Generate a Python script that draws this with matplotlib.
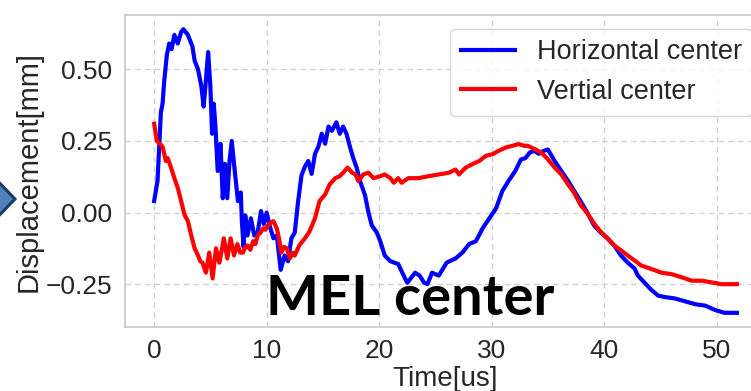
import matplotlib
matplotlib.use("Agg")
import matplotlib.pyplot as plt
from matplotlib.patches import Polygon
import numpy as np

# ---- data ----
h_time = [0, 0.3, 0.45, 0.6, 0.75, 0.9, 1.13, 1.34, 1.55, 1.8, 2.1, 2.4, 2.6, 3.0, 3.2, 3.4, 3.6, 3.9,
          4.2, 4.4, 4.6, 4.8, 5.0, 5.15, 5.3, 5.45, 5.65, 5.9, 6.1, 6.3, 6.5, 6.7, 6.9, 7.1, 7.45,
          7.7, 7.8, 7.95, 8.1, 8.3, 8.6, 8.9, 9.2, 9.5, 9.75, 10.0, 10.3, 10.6, 10.9, 11.25, 11.6,
          11.9, 12.2, 12.5, 12.8, 13.1, 13.4, 13.7, 14.0, 14.3, 14.6, 14.9, 15.2, 15.5, 15.8, 16.2,
          16.5, 16.8, 17.1, 17.4, 17.7, 18.0, 18.3, 18.75, 19.05, 19.35, 19.8, 20.1, 20.5, 21.0,
          21.7, 22.3, 22.5, 23.2, 23.6, 24.0, 24.3, 24.7, 25.3, 26.0, 26.8, 27.4, 28.0, 28.6, 29.2,
          29.8, 30.4, 30.95, 31.5, 32.1, 32.6, 33.0, 33.4, 33.8, 34.2, 34.6, 35.0, 35.6, 36.2, 36.8,
          37.35, 37.9, 38.5, 39.1, 39.7, 40.3, 40.9, 41.5, 42.1, 42.7, 43.0, 43.6, 44.2, 44.8, 45.4,
          46.3, 47.2, 48.1, 49.0, 49.85, 50.7, 51.8]
h_disp = [0.04, 0.11, 0.23, 0.35, 0.38, 0.46, 0.55, 0.59, 0.57, 0.62, 0.59, 0.63, 0.64, 0.62, 0.60, 0.58,
          0.53, 0.50, 0.44, 0.37, 0.46, 0.56, 0.44, 0.275, 0.38, 0.30, 0.145, 0.24, 0.05, 0.17, 0.05,
          0.18, 0.25, 0.17, 0.04, 0.07, -0.03, -0.12, -0.01, -0.08, -0.02, -0.08, -0.07, 0.005, -0.04,
          0.0, -0.05, -0.09, -0.08, -0.20, -0.15, -0.17, -0.09, -0.07, 0.04, 0.13, 0.16, 0.18, 0.135,
          0.205, 0.23, 0.275, 0.24, 0.30, 0.285, 0.315, 0.275, 0.30, 0.275, 0.23, 0.19, 0.157, 0.11,
          0.06, 0.0, -0.045, -0.07, -0.10, -0.15, -0.17, -0.18, -0.23, -0.245, -0.21, -0.22, -0.245,
          -0.25, -0.21, -0.22, -0.175, -0.16, -0.14, -0.11, -0.10, -0.055, -0.02, 0.015, 0.075, 0.11,
          0.145, 0.185, 0.19, 0.21, 0.215, 0.205, 0.215, 0.22, 0.18, 0.145, 0.11, 0.075, 0.04, 0.0,
          -0.045, -0.07, -0.09, -0.115, -0.15, -0.175, -0.195, -0.22, -0.245, -0.27, -0.29, -0.295,
          -0.30, -0.31, -0.32, -0.325, -0.34, -0.35, -0.35]

v_time = [0, 0.24, 0.5, 0.75, 1.04, 1.2, 1.5, 1.8, 2.1, 2.4, 2.7, 3.0, 3.3, 3.6, 3.9, 4.1, 4.3, 4.6, 4.9,
          5.2, 5.5, 5.8, 6.2, 6.5, 6.8, 7.1, 7.4, 7.65, 7.9, 8.1, 8.3, 8.55, 8.8, 9.0, 9.2, 9.45, 9.7,
          9.9, 10.1, 10.4, 10.6, 10.9, 11.1, 11.3, 11.55, 11.8, 12.05, 12.35, 12.5, 12.9, 13.4, 13.8,
          14.3, 14.7, 15.2, 15.6, 16.1, 16.5, 16.8, 17.2, 17.6, 17.9, 18.15, 18.6, 19.05, 19.5, 20.1,
          20.5, 21.0, 21.3, 21.7, 22.0, 22.6, 23.5, 24.4, 25.3, 26.2, 26.8, 27.1, 27.7, 28.3, 28.9,
          29.5, 30.1, 30.65, 31.25, 31.85, 32.4, 32.9, 33.2, 33.8, 34.4, 35.0, 35.6, 36.2, 36.8, 37.35,
          37.9, 38.5, 39.1, 39.7, 40.3, 40.9, 41.5, 42.1, 42.7, 43.3, 44.2, 45.1, 46.0, 46.9, 47.8,
          48.7, 49.6, 50.4, 51.8]
v_disp = [0.31, 0.25, 0.24, 0.23, 0.18, 0.19, 0.157, 0.12, 0.086, 0.04, -0.008, -0.03, -0.08, -0.125,
          -0.15, -0.17, -0.175, -0.21, -0.14, -0.23, -0.125, -0.175, -0.09, -0.16, -0.09, -0.15, -0.11,
          -0.14, -0.14, -0.12, -0.115, -0.13, -0.10, -0.11, -0.08, -0.07, -0.055, -0.06, -0.045,
          -0.035, -0.03, -0.055, -0.09, -0.14, -0.12, -0.125, -0.16, -0.14, -0.15, -0.115, -0.09,
          -0.067, -0.02, 0.04, 0.063, 0.098, 0.12, 0.127, 0.139, 0.157, 0.139, 0.133, 0.11, 0.133,
          0.139, 0.12, 0.127, 0.133, 0.12, 0.104, 0.12, 0.104, 0.12, 0.12, 0.127, 0.133, 0.139, 0.15,
          0.133, 0.157, 0.169, 0.18, 0.198, 0.204, 0.216, 0.227, 0.233, 0.239, 0.233, 0.233, 0.222,
          0.21, 0.186, 0.157, 0.133, 0.098, 0.068, 0.027, -0.002, -0.038, -0.067, -0.09, -0.115,
          -0.132, -0.15, -0.167, -0.185, -0.197, -0.21, -0.215, -0.226, -0.238, -0.238, -0.244,
          -0.25, -0.25]

series_labels = ["Horizontal center", "Vertial center"]
x_label = "Time[us]"
y_label = "Displacement[mm]"
overlay_text = "MEL center"

# ---- figure ----
W, H = 751, 391
fig = plt.figure(figsize=(W / 100, H / 100), dpi=100)
plt.rcParams["font.family"] = ["Liberation Sans", "DejaVu Sans"]

ax = fig.add_axes([125 / W, 64 / H, 641 / W, 312 / H])
ax.set_facecolor("white")
ax.plot(h_time, h_disp, color="#0000ff", lw=3.0, label=series_labels[0])
ax.plot(v_time, v_disp, color="#ff0000", lw=3.0, label=series_labels[1])

ax.set_xticks([0, 10, 20, 30, 40, 50])
ax.set_yticks([-0.25, 0.0, 0.25, 0.5])
ax.grid(True, color="#d0d0d0", ls=(0, (4, 3)), lw=1.0)
ax.set_axisbelow(True)
for s in ax.spines.values():
    s.set_color("#cccccc")
    s.set_linewidth(1.3)
ax.tick_params(length=0, labelsize=19, colors="#262626", pad=9)
ax.set_xlabel(x_label, fontsize=20, color="#262626", labelpad=2)
ax.set_ylabel(y_label, fontsize=21, color="#262626", labelpad=2.5)


def fmt(v, pos):
    s = "%.2f" % v
    return s.replace("-", "\u2212")


ax.yaxis.set_major_formatter(matplotlib.ticker.FuncFormatter(fmt))

leg = ax.legend(loc="upper right", fontsize=19.5, frameon=True, fancybox=True,
                framealpha=0.8, edgecolor="#cccccc")
for t in leg.get_texts():
    t.set_color("#262626")
for l in leg.get_lines():
    l.set_linewidth(3.0)

# overlay text
txt = fig.text(266 / W, (H - 315) / H, overlay_text, fontsize=40, fontweight="bold",
               family=["Lato", "DejaVu Sans"], color="black", va="baseline", ha="left")
fig.canvas.draw()
bb = txt.get_window_extent()
txt.set_fontsize(40 * 289 / bb.width)

# left arrow shape (slide decoration)
poly = Polygon([(-12 / W, (H - 171) / H), (15 / W, (H - 199) / H), (-12 / W, (H - 227) / H)],
               closed=True, transform=fig.transFigure, facecolor="#4f81bd",
               edgecolor="#1f3864", lw=2.2, clip_on=False)
fig.patches.append(poly)

fig.savefig("out.png", dpi=100)
